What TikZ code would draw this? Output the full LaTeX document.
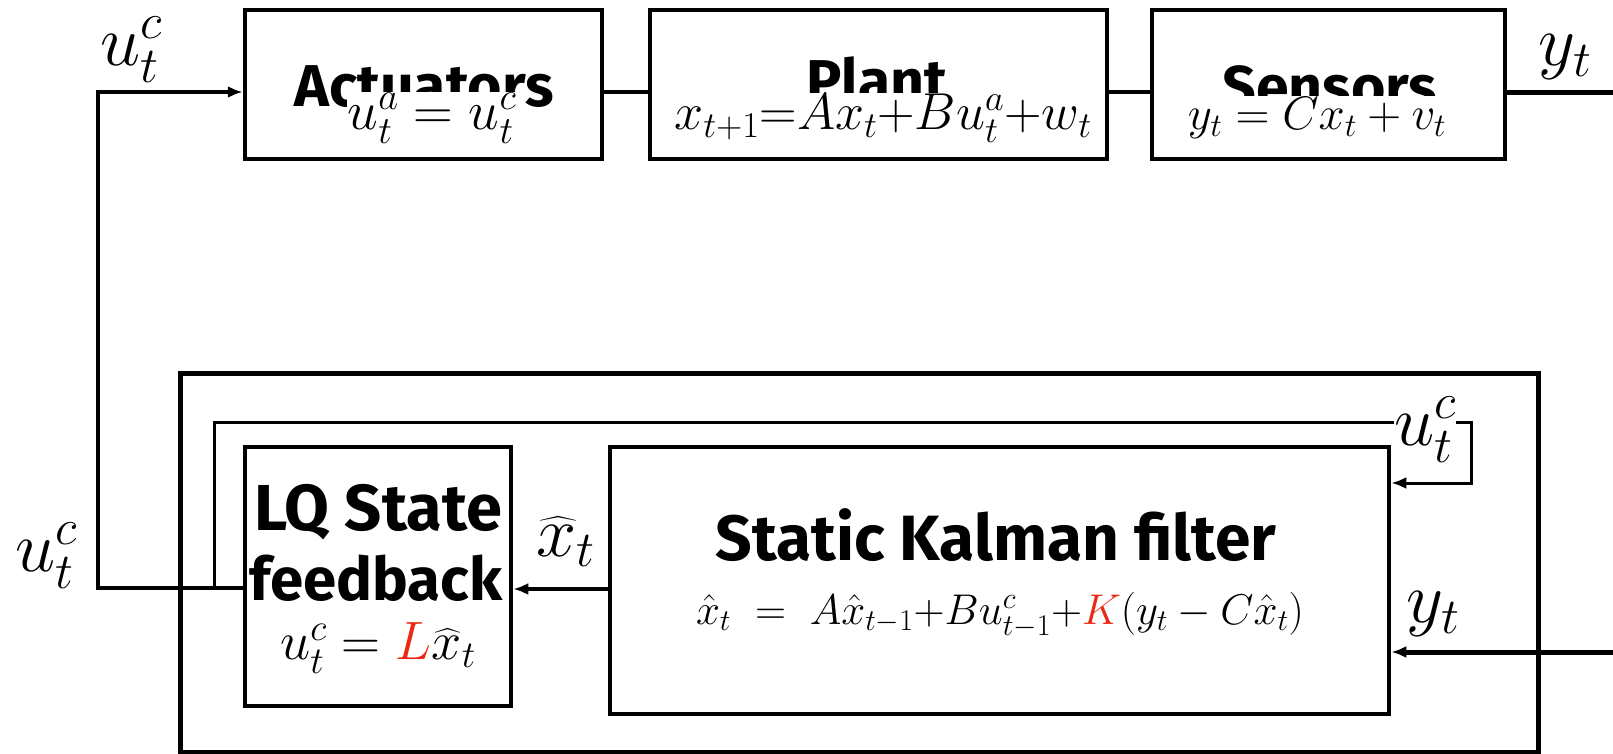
\RequirePackage{fix-cm}
\documentclass[tikz,border=0pt]{standalone}
\usepackage{fontspec}
\usepackage{amsmath}
\usepackage{xcolor}
\usetikzlibrary{arrows.meta, positioning}
\newfontfamily\blockfont{Fira Sans}
\definecolor{gainred}{RGB}{235,40,20}
\newcommand{\sz}[1]{\fontsize{#1}{#1}\selectfont}
\tikzset{
  blk/.style={draw, line width=4.5pt, inner sep=0pt},
  ttl/.style={font=\blockfont\bfseries\sz{59}, inner sep=0pt},
  eqn/.style={fill=white, inner sep=1pt},
  wire/.style={line width=4pt},
  sig/.style={wire, -{Latex[length=15pt,width=12pt]}},
  lbl/.style={font=\sz{72}, inner sep=0pt}
}

\begin{document}
\begin{tikzpicture}[x=1pt, y=-1pt]
  \useasboundingbox (0,0) rectangle (1613,754);
  % plant side
  \node[blk, minimum width=357pt, minimum height=149pt] (act) at (423.5,84.5) {};
  \node[blk, minimum width=457pt, minimum height=149pt] (plant) at (878.5,84.5) {};
  \node[blk, minimum width=353pt, minimum height=149pt] (sens) at (1328.5,84.5) {};
  \node[ttl] (actT) at (424,87) {Actuators};
  \node[ttl] (plantT) at (877,80) {Plant};
  \node[ttl] (sensT) at (1330,87) {Sensors};
  \node[eqn, font=\sz{55}] (actE) at (432,118) {$u_t^a = u_t^c$};
  \node[eqn, font=\sz{52}] (plantE) at (883,118) {$x_{t+1}{=}Ax_t{+}Bu_t^a{+}w_t$};
  \node[eqn, font=\sz{47}] (sensE) at (1317,118) {$y_t = Cx_t + v_t$};
  % controller
  \node[blk, line width=5pt, minimum width=1358pt, minimum height=379pt] (ctrl) at (859,562.5) {};
  \node[blk, minimum width=266pt, minimum height=259pt] (lq) at (378,576.5) {};
  \node[blk, minimum width=779pt, minimum height=267pt] (kf) at (999.5,580.5) {};
  \node[ttl, font=\blockfont\bfseries\sz{65}] (lqT1) at (378,512) {LQ State};
  \node[ttl, font=\blockfont\bfseries\sz{60}] (lqT2) at (376,578) {feedback};
  \node[font=\sz{54}, inner sep=0pt] (lqE) at (378,648) {$u_t^c = \textcolor{gainred}{L}\widehat{x}_t$};
  \node[ttl, font=\blockfont\bfseries\sz{64}] (kfT) at (996,535) {Static Kalman filter};
  \node[font=\sz{43}] (kfE) at (1000,615)
    {$\hat{x}_t \;=\; A\hat{x}_{t-1}{+}Bu^c_{t-1}{+}\textcolor{gainred}{K}(y_t - C\hat{x}_t)$};
  % connectors
  \coordinate (fbTop) at (98,92);
  \coordinate (fbBot) at (98,588);
  \coordinate (tap) at (214,588);
  \coordinate (loopA) at (214,422);
  \coordinate (loopB) at (1471,422);
  \coordinate (loopC) at (1471,483);
  \coordinate (yOut) at (1613,93);
  \coordinate (yIn) at (1613,652);
  \draw[wire] (act.east |- 0,92) -- (plant.west |- 0,92);
  \draw[wire] (plant.east |- 0,92) -- (sens.west |- 0,92);
  \draw[wire, line width=5pt] (sens.east |- yOut) -- (yOut);
  \draw[sig] (lq.west |- fbBot) -- (fbBot) -- (fbTop) -- (act.west |- fbTop);
  \draw[sig, line width=3pt] (tap) -- (loopA) -- (loopB) -- (loopC) -- (kf.east |- loopC);
  \draw[sig] (kf.west |- 0,589) -- (lq.east |- 0,589);
  \draw[sig, line width=5pt] (yIn) -- (kf.east |- yIn);
  % labels
  \node[lbl] (uTop) at (131,50) {$u_t^c$};
  \node[lbl] (yTop) at (1565,57) {$y_t$};
  \node[lbl] (uLeft) at (46,556) {$u_t^c$};
  \node[lbl] (xhat) at (566,542) {$\widehat{x}_t$};
  \node[lbl] (yBot) at (1433,614) {$y_t$};
  \node[lbl, fill=white] (uLoop) at (1425,430) {$u_t^c$};
\end{tikzpicture}
\end{document}
